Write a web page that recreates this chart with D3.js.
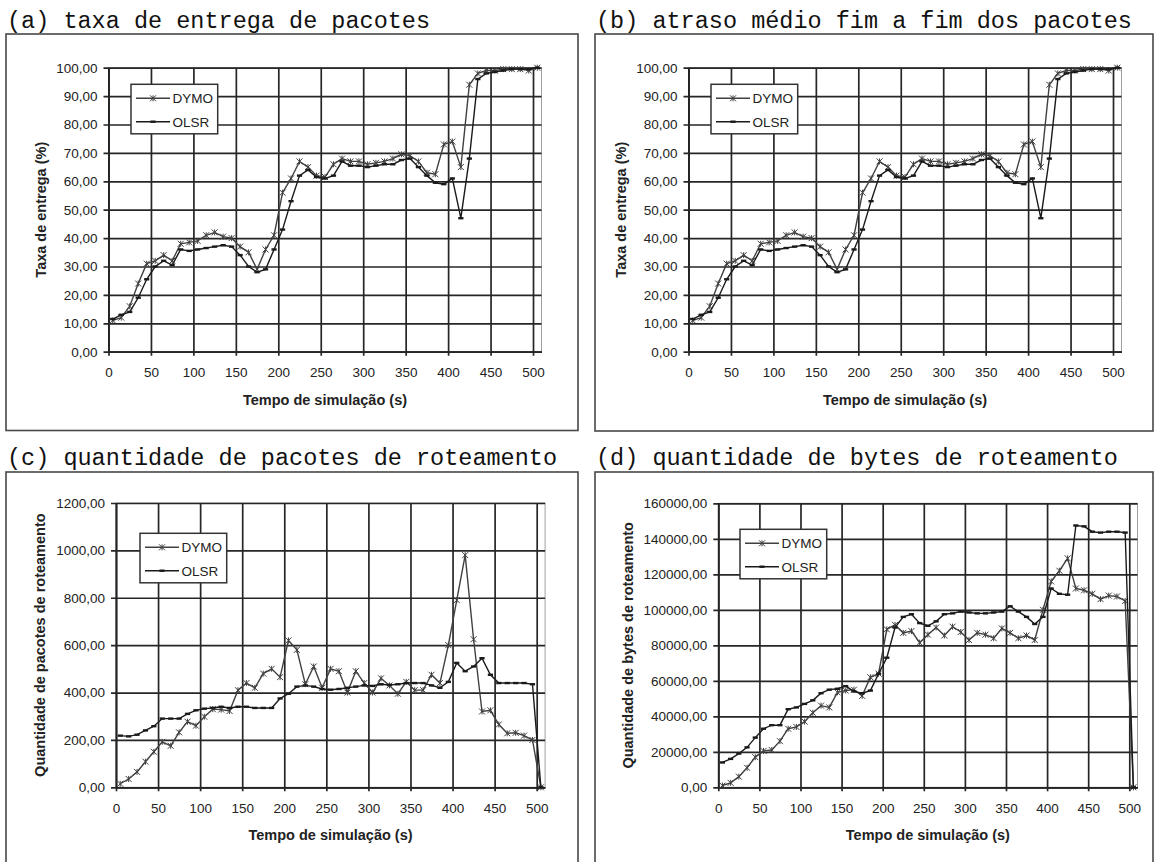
<!DOCTYPE html>
<html>
<head>
<meta charset="utf-8">
<script src="https://cdn.jsdelivr.net/npm/d3@7"></script>
<style>
  body { margin: 0; background: #fff; }
  .titulo { font-family: "Courier New", "Liberation Mono", monospace; font-size: 23.5px; fill: #111; }
  .eixo text { font-family: "Liberation Sans", Arial, sans-serif; font-size: 13.5px; fill: #222; }
  .rotulo { font-family: "Liberation Sans", Arial, sans-serif; font-size: 14.5px; font-weight: bold; fill: #222; }
  .legenda { font-family: "Liberation Sans", Arial, sans-serif; font-size: 13.5px; fill: #222; }
</style>
</head>
<body>
<svg id="fig" width="1157" height="862"></svg>
<script>
// tempo de simulação (s) de cada amostra
var tempo = [5, 15, 25, 35, 45, 55, 65, 75, 85, 95, 105, 115, 125, 135, 145, 155, 165, 175, 185, 195,
             205, 215, 225, 235, 245, 255, 265, 275, 285, 295, 305, 315, 325, 335, 345, 355, 365, 375, 385, 395,
             405, 415, 425, 435, 445, 455, 465, 475, 485, 495, 505];

// (a) e (b): taxa de entrega (%)
var taxaDymo = [11, 12, 16, 24, 31, 32, 34, 32, 38, 38.5, 39, 41, 42, 40.5, 40, 37, 35, 29, 36, 41,
                56, 61, 67, 65, 62, 61.5, 66, 68, 67, 67, 66, 66.5, 67, 68, 69.5, 69, 67, 63, 62.5, 73,
                74, 65, 94, 98, 99, 99, 99.5, 99.5, 99.5, 99, 100];
var taxaOlsr = [11.5, 13, 14, 19, 25.5, 30, 32, 30.5, 36, 35.5, 36, 36.5, 37, 37.5, 37, 34, 30, 28, 29, 36,
                43, 53, 62, 64, 61.5, 61, 62, 67, 65.5, 65.5, 65, 65.5, 66, 66, 67.5, 68, 65, 62, 59.5, 59,
                61, 47, 68, 96, 98, 98.5, 99, 99.5, 99.5, 99.5, 100];

// (c): quantidade de pacotes de roteamento
var pacDymo = [15, 35, 65, 108, 150, 192, 175, 232, 277, 260, 298, 330, 328, 322, 410, 440, 420, 480, 500, 465,
               620, 580, 435, 510, 420, 500, 490, 400, 490, 440, 400, 460, 430, 395, 445, 410, 410, 475, 440, 600,
               790, 980, 625, 320, 325, 265, 228, 230, 218, 200, 0];
var pacOlsr = [218, 215, 222, 240, 258, 290, 290, 290, 310, 325, 332, 335, 340, 335, 340, 340, 335, 335, 335, 375,
               395, 425, 430, 425, 415, 412, 415, 420, 425, 430, 428, 435, 432, 435, 440, 440, 440, 430, 420, 445,
               525, 490, 510, 545, 475, 440, 440, 440, 440, 435, 0];

// (d): quantidade de bytes de roteamento
var bytesDymo = [1000, 2500, 6000, 11000, 17000, 20500, 21000, 26000, 33000, 34000, 37000, 42000, 46000, 45000, 53500, 54500, 55000, 51500, 62000, 64000,
                 89000, 91500, 87000, 88000, 81500, 86000, 90000, 85500, 90500, 87500, 83000, 87000, 86000, 84000, 89500, 87000, 84000, 85500, 83000, 100000,
                 116000, 122000, 129000, 112000, 111000, 109000, 106000, 108000, 107500, 105000, 0];
var bytesOlsr = [14000, 16000, 19000, 22500, 28000, 33000, 35000, 35000, 44000, 45000, 47000, 49000, 53000, 55000, 55500, 57000, 54000, 53000, 54500, 64000,
                 73000, 90000, 96000, 97500, 92500, 91000, 93500, 97500, 98000, 99000, 98500, 98000, 98000, 98500, 99000, 102000, 99000, 96000, 92000, 96000,
                 112000, 109000, 108500, 147500, 147000, 144000, 143500, 144000, 144000, 143500, 0];

var xTicks = [0, 50, 100, 150, 200, 250, 300, 350, 400, 450, 500];
var yTicksTaxa = [0, 10, 20, 30, 40, 50, 60, 70, 80, 90, 100];
var yTicksPac = [0, 200, 400, 600, 800, 1000, 1200];
var yTicksBytes = [0, 20000, 40000, 60000, 80000, 100000, 120000, 140000, 160000];
var protocolos = ["DYMO", "OLSR"];

var svg = d3.select("#fig");
var br = d3.formatLocale({decimal: ",", thousands: "", grouping: [3], currency: ["", ""]});
var fmt = br.format(".2f");

// disposição dos quatro quadros
var paineis = [
  {titulo: "(a) taxa de entrega de pacotes", caixa: [6, 34, 578, 430.5], tituloY: 27.5,
   x0: 108.5, x1: 541.5, yTop: 67.7, yBot: 351.7, yTicks: yTicksTaxa, yLabel: "Taxa de entrega (%)", yLabelX: 41,
   leg: [131, 84.3], dymo: taxaDymo, olsr: taxaOlsr},
  {titulo: "(b) atraso médio fim a fim dos pacotes", caixa: [595, 34, 1153, 431], tituloY: 27.5,
   x0: 688.5, x1: 1121.5, yTop: 67.7, yBot: 351.7, yTicks: yTicksTaxa, yLabel: "Taxa de entrega (%)", yLabelX: 621,
   leg: [711, 84.3], dymo: taxaDymo, olsr: taxaOlsr},
  {titulo: "(c) quantidade de pacotes de roteamento", caixa: [6, 472, 578, 900], tituloY: 465,
   x0: 116, x1: 545.1, yTop: 503, yBot: 787.3, yTicks: yTicksPac, yLabel: "Quantidade de pacotes de roteamento", yLabelX: 40,
   leg: [140, 533.3], dymo: pacDymo, olsr: pacOlsr},
  {titulo: "(d) quantidade de bytes de roteamento", caixa: [595, 472, 1153, 900], tituloY: 465,
   x0: 718.3, x1: 1137.5, yTop: 503.3, yBot: 787.3, yTicks: yTicksBytes, yLabel: "Quantidade de bytes de roteamento", yLabelX: 628,
   leg: [740, 529.3], dymo: bytesDymo, olsr: bytesOlsr}
];

var cruz = "M-3,-3L3,3M-3,3L3,-3M0,-3L0,3";
var traco = "M-2.6,0L2.6,0";

function desenha(p) {
  var g = svg.append("g");
  var yMax = p.yTicks[p.yTicks.length - 1];
  var x = d3.scaleLinear().domain([0, 510]).range([p.x0, p.x1]);
  var y = d3.scaleLinear().domain([0, yMax]).range([p.yBot, p.yTop]);
  var h = p.yBot - p.yTop, w = p.x1 - p.x0;

  g.append("rect")
    .attr("x", p.caixa[0]).attr("y", p.caixa[1])
    .attr("width", p.caixa[2] - p.caixa[0]).attr("height", p.caixa[3] - p.caixa[1])
    .attr("fill", "none").attr("stroke", "#474747").attr("stroke-width", 1.6);

  g.append("text").attr("class", "titulo")
    .attr("x", p.caixa[0] + 1).attr("y", p.tituloY).text(p.titulo);

  // moldura da área de plotagem
  g.append("rect").attr("x", p.x0).attr("y", p.yTop).attr("width", w).attr("height", h)
    .attr("fill", "none").attr("stroke", "#a0a0a0").attr("stroke-width", 1);

  var ax = g.append("g").attr("class", "eixo")
    .attr("transform", "translate(0," + p.yBot + ")")
    .call(d3.axisBottom(x).tickValues(xTicks).tickSizeInner(-h).tickSizeOuter(0).tickPadding(16).tickFormat(d3.format("d")));
  ax.selectAll(".tick line").attr("y1", 4).attr("stroke", "#262626").attr("stroke-width", 1.7);
  ax.select(".domain").attr("stroke", "#222").attr("stroke-width", 1.7);

  var ay = g.append("g").attr("class", "eixo")
    .attr("transform", "translate(" + p.x0 + ",0)")
    .call(d3.axisLeft(y).tickValues(p.yTicks).tickSizeInner(-w).tickSizeOuter(0).tickPadding(11).tickFormat(fmt));
  ay.selectAll(".tick line").attr("x1", -5).attr("stroke", "#262626").attr("stroke-width", 1.7);
  ay.select(".domain").attr("stroke", "#222").attr("stroke-width", 1.7);

  g.append("text").attr("class", "rotulo").attr("text-anchor", "middle")
    .attr("x", (p.x0 + p.x1) / 2).attr("y", p.yBot + 53).text("Tempo de simulação (s)");
  g.append("text").attr("class", "rotulo").attr("text-anchor", "middle")
    .attr("transform", "translate(" + (p.yLabelX + 5) + "," + ((p.yTop + p.yBot) / 2) + ") rotate(-90)")
    .text(p.yLabel);

  var linha = d3.line().x(function(d, i) { return x(tempo[i]); }).y(function(d) { return y(d); });
  var estilos = [
    {dados: p.dymo, cor: "#404040", marca: cruz, esp: 1},
    {dados: p.olsr, cor: "#1a1a1a", marca: traco, esp: 2.4}
  ];
  estilos.forEach(function(s) {
    g.append("path").datum(s.dados).attr("d", linha)
      .attr("fill", "none").attr("stroke", s.cor).attr("stroke-width", 1.4);
    g.selectAll(null).data(s.dados).enter().append("path")
      .attr("transform", function(d, i) { return "translate(" + x(tempo[i]) + "," + y(d) + ")"; })
      .attr("d", s.marca).attr("stroke", s.cor).attr("stroke-width", s.esp).attr("fill", "none");
  });

  // legenda
  var lg = g.append("g").attr("transform", "translate(" + p.leg[0] + "," + p.leg[1] + ")");
  lg.append("rect").attr("width", 86.7).attr("height", 49.5)
    .attr("fill", "#fff").attr("stroke", "#333").attr("stroke-width", 1.5);
  protocolos.forEach(function(nome, i) {
    var s = estilos[i], yy = 14 + i * 23.4;
    lg.append("line").attr("x1", 5).attr("x2", 39).attr("y1", yy).attr("y2", yy)
      .attr("stroke", s.cor).attr("stroke-width", 1.4);
    lg.append("path").attr("transform", "translate(22," + yy + ")").attr("d", s.marca)
      .attr("stroke", s.cor).attr("stroke-width", s.esp).attr("fill", "none");
    lg.append("text").attr("class", "legenda").attr("x", 41.5).attr("y", yy + 5).text(nome);
  });
}

paineis.forEach(desenha);
</script>
</body>
</html>
